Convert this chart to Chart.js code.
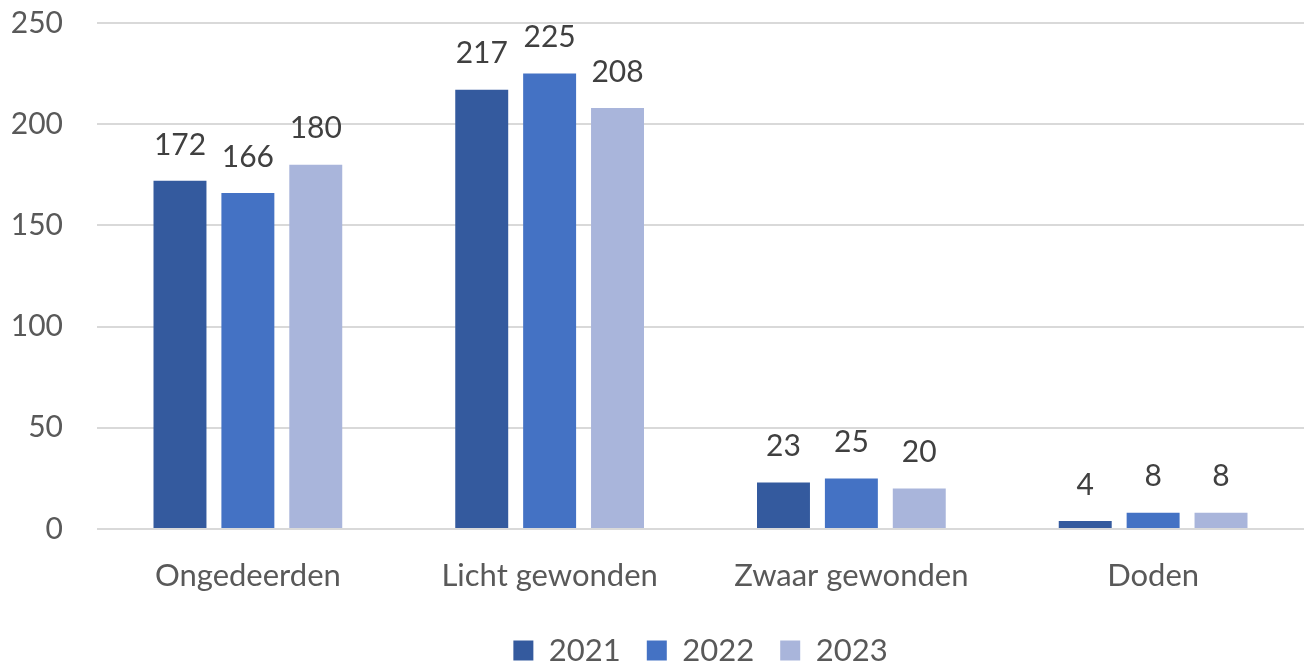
<!DOCTYPE html>
<html>
<head>
<meta charset="utf-8">
<script src="https://cdn.jsdelivr.net/npm/chart.js@4/dist/chart.umd.min.js"></script>
<style>
  html, body { margin: 0; padding: 0; background: #fff; }
  #wrap { width: 1304px; height: 666px; }
</style>
</head>
<body>
<div id="wrap"><canvas id="chart"></canvas></div>
<script>
// categories and yearly counts
var categories = ['Ongedeerden', 'Licht gewonden', 'Zwaar gewonden', 'Doden'];
var years = ['2021', '2022', '2023'];
var values2021 = [172, 217, 23, 4];
var values2022 = [166, 225, 25, 8];
var values2023 = [180, 208, 20, 8];
var yTicks = [0, 50, 100, 150, 200, 250];

var colors = ['#345A9E', '#4472C4', '#A9B5DB'];
var font = 'Lato, "Open Sans", sans-serif';

// ── value labels above each bar ───────────────────────
var barValues = {
  id: 'barValues',
  afterDatasetsDraw: function (chart) {
    var ctx = chart.ctx;
    ctx.save();
    ctx.font = '30px ' + font;
    ctx.fillStyle = '#404040';
    ctx.textAlign = 'center';
    ctx.textBaseline = 'middle';
    chart.data.datasets.forEach(function (ds, i) {
      chart.getDatasetMeta(i).data.forEach(function (bar, j) {
        ctx.fillText(ds.data[j], bar.x, bar.y - 36);
      });
    });
    ctx.restore();
  }
};

new Chart(document.getElementById('chart'), {
  type: 'bar',
  data: {
    labels: categories,
    datasets: [
      { label: years[0], data: values2021, backgroundColor: colors[0] },
      { label: years[1], data: values2022, backgroundColor: colors[1] },
      { label: years[2], data: values2023, backgroundColor: colors[2] }
    ]
  },
  options: {
    responsive: true,
    maintainAspectRatio: false,
    animation: false,
    layout: { padding: { top: 0, right: 0, left: 0, bottom: -10 } },
    datasets: { bar: { categoryPercentage: 0.675, barPercentage: 0.78 } },
    plugins: {
      tooltip: { enabled: false },
      legend: {
        position: 'bottom',
        fullSize: false,
        labels: {
          color: '#595959',
          font: { family: font, size: 31 },
          boxWidth: 20,
          boxHeight: 20,
          padding: 26
        }
      }
    },
    scales: {
      x: {
        grid: { display: false },
        border: { display: false },
        ticks: { color: '#595959', font: { family: font, size: 31 }, padding: 20 },
        afterFit: function (scale) { scale.height = 80; }
      },
      y: {
        min: 0,
        max: 250,
        afterBuildTicks: function (scale) {
          scale.ticks = yTicks.map(function (v) { return { value: v }; });
        },
        // invisible tick marks keep the labels away from the grid
        grid: { color: '#D9D9D9', lineWidth: 2, drawTicks: true, tickLength: 29, tickColor: 'rgba(0,0,0,0)' },
        border: { display: false },
        ticks: { color: '#595959', font: { family: font, size: 30 }, padding: 5 },
        afterFit: function (scale) { scale.width = 97; }
      }
    }
  },
  plugins: [barValues]
});
</script>
</body>
</html>
